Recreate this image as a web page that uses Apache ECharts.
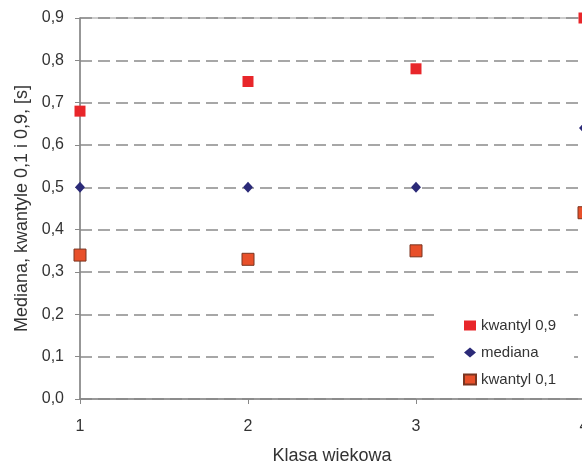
<!DOCTYPE html>
<html>
<head>
<meta charset="utf-8">
<script src="https://cdn.jsdelivr.net/npm/echarts@6/dist/echarts.min.js"></script>
<style>html,body{margin:0;padding:0;background:#fff;}#c{width:582px;height:469px;}</style>
</head>
<body>
<div id="c"></div>
<script>
const categories = ['1', '2', '3', '4'];
const kwantyl09 = [0.68, 0.75, 0.78, 0.90];
const mediana = [0.50, 0.50, 0.50, 0.64];
const kwantyl01 = [0.34, 0.33, 0.35, 0.44];

const chart = echarts.init(document.getElementById('c'));
const font = 'Liberation Sans, Arial, sans-serif';
chart.setOption({
  animation: false,
  backgroundColor: '#fff',
  textStyle: { fontFamily: font },
  grid: { left: 80, top: 18, width: 504, height: 381, outerBoundsMode: 'none', containLabel: false,
    show: true, borderColor: '#999', borderWidth: 1.2, backgroundColor: 'transparent' },
  legend: {
    orient: 'vertical', left: 437, top: 306,
    backgroundColor: '#fff',
    padding: [12, 18, 6, 26],
    itemGap: 12, itemWidth: 12, itemHeight: 10,
    textStyle: { fontSize: 15, color: '#333', fontFamily: font },
    data: ['kwantyl 0,9', 'mediana', 'kwantyl 0,1']
  },
  xAxis: {
    type: 'category', data: categories, boundaryGap: false,
    name: 'Klasa wiekowa', nameLocation: 'middle', nameGap: 48,
    nameTextStyle: { fontSize: 18, color: '#333' },
    axisLine: { lineStyle: { color: '#888', width: 1.5 } },
    axisTick: { show: true, length: 5, alignWithLabel: true, lineStyle: { color: '#888' } },
    axisLabel: { fontSize: 16, color: '#333', margin: 20 },
    splitLine: { show: false }
  },
  yAxis: {
    type: 'value', min: 0, max: 0.9, interval: 0.1,
    name: 'Mediana, kwantyle 0,1 i 0,9, [s]', nameLocation: 'middle', nameGap: 49,
    nameTextStyle: { fontSize: 18, color: '#333' },
    axisLine: { show: true, lineStyle: { color: '#888', width: 1.5 } },
    axisTick: { show: true, length: 5, lineStyle: { color: '#888' } },
    axisLabel: { fontSize: 16, color: '#333', margin: 16, formatter: v => v.toFixed(1).replace('.', ',') },
    splitLine: { show: true, lineStyle: { color: '#8a8a8a', width: 1.5, type: [12, 6] } }
  },
  series: [
    { name: 'kwantyl 0,9', type: 'scatter', data: kwantyl09, symbol: 'rect', symbolSize: 11,
      itemStyle: { color: '#e8262a', opacity: 1 }, z: 3 },
    { name: 'mediana', type: 'scatter', data: mediana, symbol: 'diamond', symbolSize: [10, 11],
      itemStyle: { color: '#2b2a78', opacity: 1 }, z: 3 },
    { name: 'kwantyl 0,1', type: 'scatter', data: kwantyl01, symbol: 'rect', symbolSize: 12,
      itemStyle: { color: '#e8502a', borderColor: '#7a3520', borderWidth: 1, opacity: 1 }, z: 3 }
  ]
});
</script>
</body>
</html>
